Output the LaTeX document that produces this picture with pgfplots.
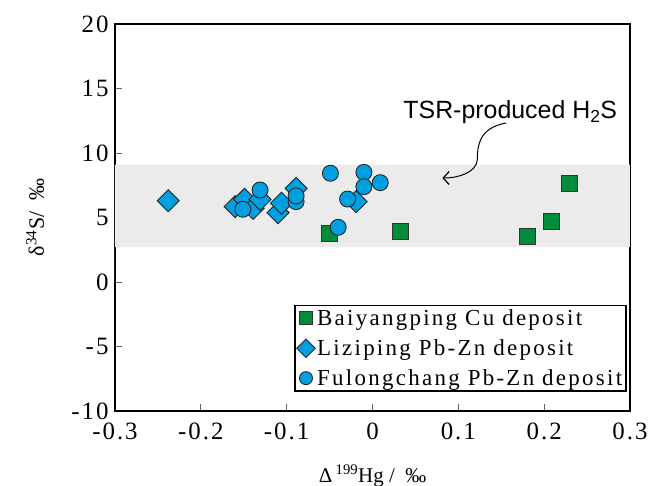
\documentclass[border=0pt]{standalone}
\usepackage{fontspec}
\setmainfont{Liberation Serif}
\newfontfamily\lsfont[LetterSpace=8]{Liberation Serif}
\newfontfamily\lgfont[LetterSpace=10]{Liberation Serif}
\newfontfamily\sansf{Liberation Sans}
\usepackage{pgfplots}
\pgfplotsset{compat=1.18}
\usetikzlibrary{arrows.meta}
\definecolor{sqgreen}{HTML}{008C3A}
\definecolor{ptblue}{HTML}{009FE0}
\definecolor{bandgray}{HTML}{EBEBEB}
\begin{document}
\begin{tikzpicture}
\begin{axis}[
  name=ax,
  scale only axis, width=515bp, height=387bp,
  xmin=-0.3, xmax=0.3, ymin=-10, ymax=20,
  xtick={-0.3,-0.2,-0.1,0,0.1,0.2,0.3},
  xticklabels={-0.3,-0.2,-0.1,0,0.1,0.2,0.3},
  ytick={-10,-5,0,5,10,15,20},
  yticklabels={-10,-5,0,5,10,15,20},
  tick align=inside, tick pos=left, major tick length=7bp,
  tick style={black!60, line width=0.8bp},
  axis line style={line width=1.5bp},
  ticklabel style={font=\fontsize{25}{25}\selectfont\lsfont},
  yticklabel style={xshift=-3bp},
  xticklabel style={yshift=-8bp},
  xlabel={\fontsize{21}{21}\selectfont Δ\,\textsuperscript{199}Hg /\ \ ‰},
  ylabel={\fontsize{22}{22}\selectfont δ\textsuperscript{34}S/\ \ ‰},
  xlabel style={at={(axis description cs:0.5,-0.168)}, anchor=center},
  ylabel style={at={(axis description cs:-0.155,0.5)}, anchor=center},
  legend style={at={(rel axis cs:0.994,0.274)}, anchor=north east,
    draw=black, line width=1.5bp, fill=white,
    font=\fontsize{23}{26}\selectfont\lgfont, row sep=8.5bp, inner sep=2bp},
  legend image post style={mark size=6.5bp},
  legend cell align=left,
]
\addplot[fill=bandgray, draw=none, forget plot] coordinates {(-0.3,2.7) (0.3,2.7) (0.3,9.1) (-0.3,9.1)} \closedcycle;
\addplot[only marks, mark=square*, mark size=8bp,
  mark options={fill=sqgreen, draw=black!80, line width=0.9bp}]
  coordinates {(-0.050,3.80) (0.033,3.95) (0.181,3.50) (0.209,4.73) (0.230,7.62)};
\addlegendentry{Baiyangping Cu deposit}
\addplot[only marks, mark=square*, mark size=7.8bp,
  mark options={rotate=45, fill=ptblue, draw=black!85, line width=0.9bp}]
  coordinates {(-0.238,6.30) (-0.160,5.84) (-0.149,6.41) (-0.139,5.71) (-0.131,6.41)
               (-0.110,5.37) (-0.106,6.10) (-0.089,7.26) (-0.019,6.23)};
\addlegendentry{Liziping Pb-Zn deposit}
\addplot[only marks, mark=*, mark size=8bp,
  mark options={fill=ptblue, draw=black!85, line width=0.9bp}]
  coordinates {(-0.151,5.64) (-0.131,7.13) (-0.089,6.23) (-0.089,6.67) (-0.049,8.43)
               (-0.010,8.50) (-0.010,7.39) (0.009,7.70) (-0.029,6.43) (-0.040,4.24)};
\addlegendentry{Fulongchang Pb-Zn deposit}
\node[anchor=base, font=\fontsize{25}{25}\selectfont\sansf, inner sep=0pt]
  at (axis cs:0.1605,12.64) {TSR-produced H\textsubscript{2}S};
\draw[line width=1bp, -{Straight Barb[length=6bp,width=13bp,line width=1.2bp]}]
  (axis cs:0.1558,12.33) .. controls (axis cs:0.1244,11.94) and (axis cs:0.1221,10.62)
  .. (axis cs:0.1221,9.46) .. controls (axis cs:0.1209,8.53) and (axis cs:0.1012,8.06)
  .. (axis cs:0.0814,8.06);
\end{axis}
\pgfresetboundingbox
\useasboundingbox ([shift={(-115bp,-75bp)}]ax.south west) rectangle ++(659bp,486bp);
\end{tikzpicture}
\end{document}
